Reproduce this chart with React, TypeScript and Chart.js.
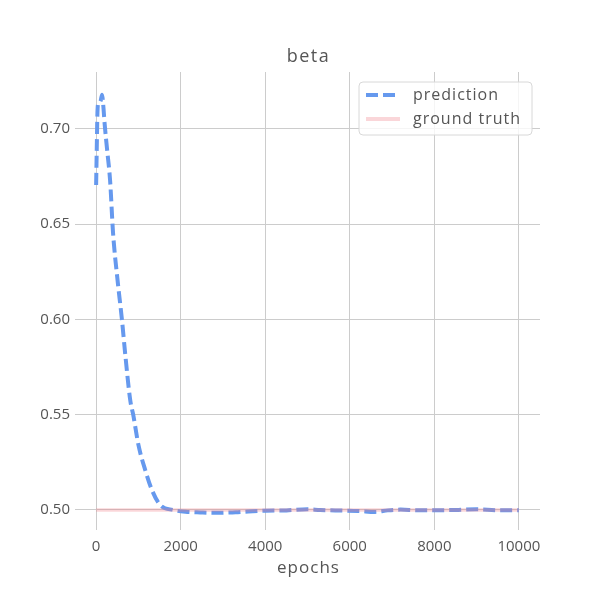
import React, { useEffect, useRef } from "react";
import { Chart, registerables } from "chart.js";

Chart.register(...registerables);

const titleText = "beta";
const xAxisLabel = "epochs";
const seriesNames = ["prediction", "ground truth"];

const predictionEpochs = [
  0, 15, 30, 50, 80, 110, 140, 170, 200, 260, 330, 400, 500, 610, 690, 806, 877, 1002,
  1161, 1320, 1517, 1825, 2157, 2465, 2800, 3000, 3300, 3600, 4000, 4500, 5000, 5300,
  5800, 6200, 6600, 6900, 7200, 7600, 8000, 8500, 9000, 9500, 10000,
];
const predictionValues = [
  0.6706, 0.690, 0.708, 0.7135, 0.714, 0.715, 0.718, 0.712, 0.703, 0.689, 0.673, 0.6454,
  0.622, 0.600, 0.5814, 0.5577, 0.550, 0.534, 0.521, 0.5105, 0.5026, 0.5000, 0.4990,
  0.4987, 0.4985, 0.4986, 0.4988, 0.4992, 0.4996, 0.4998, 0.5004, 0.5000, 0.4997,
  0.4995, 0.4990, 0.4998, 0.5002, 0.4999, 0.4999, 0.5000, 0.5004, 0.4999, 0.4999,
];
const groundTruthEpochs = [0, 10000];
const groundTruthValues = [0.5, 0.5];

const xTickValues = [0, 2000, 4000, 6000, 8000, 10000];
const yTickValues = [0.5, 0.55, 0.6, 0.65, 0.7];

const FONT = "'Open Sans', 'DejaVu Sans', sans-serif";
const TEXT = "#555555";
const BLUE = "#6699ee";
const PINK = "rgba(240,120,130,0.3)";
const GRID = "#cccccc";

const overlayPlugin = {
  id: "overlay",
  afterDatasetsDraw(chart: any) {
    const ctx = chart.ctx as any;
    const a = chart.chartArea;
    const cx = (a.left + a.right) / 2;
    ctx.save();
    ctx.fillStyle = TEXT;
    ctx.textAlign = "center";
    ctx.textBaseline = "middle";
    ctx.letterSpacing = "1.5px";
    ctx.font = `18px ${FONT}`;
    ctx.fillText(titleText, cx + 1, 57);
    ctx.letterSpacing = "1px";
    ctx.font = `17px ${FONT}`;
    ctx.fillText(xAxisLabel, cx + 1, 568);

    // legend
    const bx = 359, by = 82, bw = 173, bh = 53, r = 4;
    ctx.beginPath();
    ctx.moveTo(bx + r, by);
    ctx.lineTo(bx + bw - r, by);
    ctx.arcTo(bx + bw, by, bx + bw, by + r, r);
    ctx.lineTo(bx + bw, by + bh - r);
    ctx.arcTo(bx + bw, by + bh, bx + bw - r, by + bh, r);
    ctx.lineTo(bx + r, by + bh);
    ctx.arcTo(bx, by + bh, bx, by + bh - r, r);
    ctx.lineTo(bx, by + r);
    ctx.arcTo(bx, by, bx + r, by, r);
    ctx.closePath();
    ctx.fillStyle = "rgba(255,255,255,0.8)";
    ctx.fill();
    ctx.strokeStyle = "#d8d8d8";
    ctx.lineWidth = 1;
    ctx.stroke();

    ctx.lineWidth = 4;
    ctx.strokeStyle = BLUE;
    ctx.setLineDash([12, 5]);
    ctx.beginPath();
    ctx.moveTo(366, 95);
    ctx.lineTo(400, 95);
    ctx.stroke();
    ctx.setLineDash([]);
    ctx.strokeStyle = PINK;
    ctx.beginPath();
    ctx.moveTo(366, 119);
    ctx.lineTo(400, 119);
    ctx.stroke();

    ctx.fillStyle = TEXT;
    ctx.textAlign = "left";
    ctx.letterSpacing = "1px";
    ctx.font = `16px ${FONT}`;
    ctx.fillText(seriesNames[0], 413, 95);
    ctx.fillText(seriesNames[1], 413, 119);
    ctx.restore();
  },
};

export default function App() {
  const ref = useRef<HTMLCanvasElement>(null);
  useEffect(() => {
    if (!ref.current) return;
    const chart = new Chart(ref.current, {
      type: "line",
      data: {
        datasets: [
          {
            label: seriesNames[0],
            data: predictionEpochs.map((x, i) => ({ x, y: predictionValues[i] })),
            borderColor: BLUE,
            borderWidth: 4,
            borderDash: [12, 5],
            pointRadius: 0,
            cubicInterpolationMode: "monotone",
            fill: false,
            order: 1,
          },
          {
            label: seriesNames[1],
            data: groundTruthEpochs.map((x, i) => ({ x, y: groundTruthValues[i] })),
            borderColor: PINK,
            borderWidth: 3.5,
            pointRadius: 0,
            fill: false,
            order: 0,
          },
        ],
      },
      options: {
        animation: false,
        responsive: false,
        devicePixelRatio: 1,
        layout: { padding: { top: 72, right: 60, left: 0, bottom: 0 } },
        plugins: {
          legend: { display: false },
          title: { display: false },
          tooltip: { enabled: false },
        },
        scales: {
          x: {
            type: "linear",
            min: -500,
            max: 10500,
            afterBuildTicks: (s: any) => {
              s.ticks = xTickValues.map((v) => ({ value: v }));
            },
            afterFit: (s: any) => {
              s.height = 70;
            },
            grid: { color: GRID, lineWidth: 1, drawTicks: false },
            border: { display: false },
            ticks: {
              padding: 8,
              color: TEXT,
              font: { family: FONT, size: 15 },
              maxRotation: 0,
              callback: (v: any) => String(v),
            },
          },
          y: {
            type: "linear",
            min: 0.4895,
            max: 0.7299,
            afterBuildTicks: (s: any) => {
              s.ticks = yTickValues.map((v) => ({ value: v }));
            },
            afterFit: (s: any) => {
              s.width = 75;
            },
            grid: { color: GRID, lineWidth: 1, drawTicks: false },
            border: { display: false },
            ticks: {
              padding: 5,
              color: TEXT,
              font: { family: FONT, size: 15 },
              callback: (v: any) => Number(v).toFixed(2),
            },
          },
        },
      },
      plugins: [overlayPlugin],
    });
    return () => chart.destroy();
  }, []);
  return (
    <div style={{ position: "fixed", left: 0, top: 0, width: 600, height: 600, background: "#fff" }}>
      <canvas ref={ref} width={600} height={600} />
    </div>
  );
}
